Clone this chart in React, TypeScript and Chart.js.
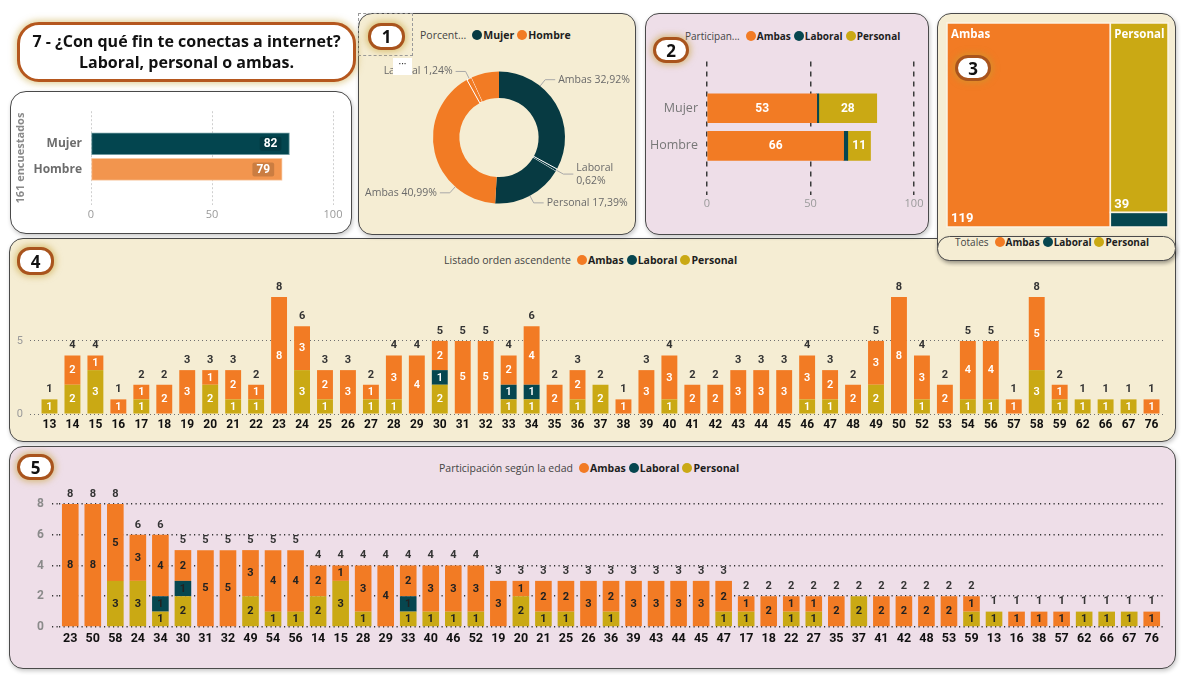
import { useEffect, useRef } from "react";
import { Chart, registerables } from "chart.js";

Chart.register(...registerables);

// ---------------- DATA ----------------
const ages = ["13","14","15","16","17","18","19","20","21","22","23","24","25","26","27","28","29","30","31","32","33","34","35","36","37","38","39","40","41","42","43","44","45","46","47","48","49","50","52","53","54","56","57","58","59","62","66","67","76"];
const ambasByAge = [0,2,1,1,1,2,3,1,2,1, 8,3,2,3,1,3,4,2,5,5, 2,4,2,2,0,1,3,3,2,2, 3,3,3,3,2,2,3,8, 3,2,4,4,1,5,1,0,0,0,1];
const laboralByAge = [0,0,0,0,0,0,0,0,0,0, 0,0,0,0,0,0,0,1,0,0, 1,1,0,0,0,0,0,0,0,0, 0,0,0,0,0,0,0,0, 0,0,0,0,0,0,0,0,0,0,0];
const personalByAge = [1,2,3,0,1,0,0,2,1,1, 0,3,1,0,1,1,0,2,0,0, 1,1,0,1,2,0,0,1,0,0, 0,0,0,1,1,0,2,0, 1,0,1,1,0,3,1,1,1,1,0];
const agesByParticipation = ["23","50","58","24","34","30","31","32","49","54","56","14","15","28","29","33","40","46","52","19","20","21","25","26","36","39","43","44","45","47","17","18","22","27","35","37","41","42","48","53","59","13","16","38","57","62","66","67","76"];

const genders = ["Mujer", "Hombre"];
const ambasByGender = [53, 66];
const laboralByGender = [1, 2];
const personalByGender = [28, 11];
const usageTypes = ["Ambas", "Laboral", "Personal"];

const respondentTicks = [0, 50, 100];
const ascendingTicks = [0, 5];
const participationTicks = [0, 2, 4, 6, 8];

// ---------------- STYLE ----------------
const FONT = "'Open Sans', 'Noto Sans', sans-serif";
const NUM = "Roboto, 'Open Sans', sans-serif";
const AMBAS = "#F27B24";
const LABORAL = "#06464F";
const PERSONAL = "#CAA914";
const MUJER_DARK = "#073A42";
const MUJER_BAR = "#03454F";
const HOMBRE_BAR = "#F2954E";
const CREAM = "#F5EDD3";
const PINK = "#EEDEE8";
const typeColors = [AMBAS, LABORAL, PERSONAL];

const sum = (a: number[]) => a.reduce((s, v) => s + v, 0);
const typeTotals = [sum(ambasByAge), sum(laboralByAge), sum(personalByAge)];
const genderTotals = genders.map((_, i) => ambasByGender[i] + laboralByGender[i] + personalByGender[i]);
const respondents = sum(genderTotals);

const fixedTicks = (vals: number[]) => (s: any) => {
  s.ticks = vals.map((v) => ({ value: v }));
};

// ---------------- PLUGINS ----------------
const valueBoxPlugin = {
  id: "valueBox",
  afterDatasetsDraw(chart: any) {
    const ctx = chart.ctx;
    const meta = chart.getDatasetMeta(0);
    const ds = chart.data.datasets[0];
    ctx.save();
    ctx.font = `bold 12px ${NUM}`;
    ctx.textAlign = "center";
    ctx.textBaseline = "middle";
    meta.data.forEach((bar: any, i: number) => {
      const t = String(ds.data[i].x);
      const w = ctx.measureText(t).width + 8;
      const p = bar.getProps(["x", "y"], true);
      const bx = p.x - 8 - w;
      ctx.fillStyle = "rgba(0,0,0,0.16)";
      ctx.beginPath();
      ctx.roundRect(bx, p.y - 7, w, 14, 2);
      ctx.fill();
      ctx.fillStyle = "#fff";
      ctx.fillText(t, bx + w / 2, p.y + 0.5);
    });
    ctx.restore();
  },
};

const hStackLabels = {
  id: "hStackLabels",
  afterDatasetsDraw(chart: any) {
    const ctx = chart.ctx;
    ctx.save();
    ctx.font = `bold 12px ${NUM}`;
    ctx.textAlign = "center";
    ctx.textBaseline = "middle";
    ctx.fillStyle = "#fff";
    chart.data.datasets.forEach((ds: any, di: number) => {
      chart.getDatasetMeta(di).data.forEach((bar: any, i: number) => {
        const p = bar.getProps(["x", "y", "base"], true);
        if (Math.abs(p.x - p.base) < 14) return;
        ctx.fillText(String(ds.data[i].x), (p.x + p.base) / 2, p.y + 0.5);
      });
    });
    ctx.restore();
  },
};

function stackLabels(insideColor: string, totalColor: string, insideWeight: string) {
  return {
    id: "stackLabels",
    afterDatasetsDraw(chart: any) {
      const ctx = chart.ctx;
      const n = chart.data.labels.length;
      ctx.save();
      ctx.textAlign = "center";
      ctx.textBaseline = "middle";
      ctx.font = `${insideWeight} 11px ${NUM}`;
      ctx.fillStyle = insideColor;
      chart.data.datasets.forEach((ds: any, di: number) => {
        chart.getDatasetMeta(di).data.forEach((bar: any, i: number) => {
          const v = ds.data[i];
          if (!v) return;
          const p = bar.getProps(["x", "y", "base"], true);
          ctx.fillText(String(v), p.x, (p.y + p.base) / 2 + 0.5);
        });
      });
      const ys = chart.scales.y;
      const meta0 = chart.getDatasetMeta(0);
      ctx.font = `bold 11px ${NUM}`;
      ctx.fillStyle = totalColor;
      for (let i = 0; i < n; i++) {
        const tot = chart.data.datasets.reduce((s: number, ds: any) => s + (ds.data[i] || 0), 0);
        ctx.fillText(String(tot), meta0.data[i].x, ys.getPixelForValue(tot) - 10);
      }
      ctx.restore();
    },
  };
}

const donutLabels = {
  id: "donutLabels",
  afterDraw(chart: any) {
    const ctx = chart.ctx;
    const vals = chart.data.datasets[0].data as number[];
    const total = sum(vals);
    const meta = chart.getDatasetMeta(0);
    ctx.save();
    ctx.font = `10.5px ${FONT}`;
    ctx.textBaseline = "middle";
    const W = chart.width;
    const margin = 5;
    const lh = 13;
    const placed: any[] = [];
    meta.data.forEach((arc: any, i: number) => {
      const p = arc.getProps(["x", "y", "startAngle", "endAngle", "outerRadius"], true);
      const pct = ((vals[i] / total) * 100).toFixed(2).replace(".", ",") + "%";
      const name = String(chart.data.labels[i]);
      const full = `${name} ${pct}`;
      const mid = (p.startAngle + p.endAngle) / 2;
      const right = Math.cos(mid) >= 0;
      const r1 = p.outerRadius + 8;
      const run = 10;
      const gap = 3;
      const anchorX = (a: number) => p.x + r1 * Math.cos(a) + (right ? run + gap : -(run + gap));
      const fits = (a: number, w: number) => (right ? anchorX(a) + w <= W - margin : anchorX(a) - w >= margin);
      let a = mid;
      let lines = [full];
      const wFull = ctx.measureText(full).width;
      if (!fits(a, wFull)) {
        const target = Math.sin(mid) >= 0 ? Math.PI / 2 : Math.cos(mid) >= 0 ? -Math.PI / 2 : 1.5 * Math.PI;
        const dir = Math.sign(target - mid);
        const lo = p.startAngle + 0.06;
        const hi = p.endAngle - 0.06;
        let b = mid;
        let ok = false;
        while (b >= lo && b <= hi) {
          if (fits(b, wFull)) { ok = true; break; }
          b += dir * 0.01;
        }
        if (ok) a = b;
        else lines = [name, pct];
      }
      const w = Math.max(...lines.map((t) => ctx.measureText(t).width));
      const ex = p.x + r1 * Math.cos(a);
      const ey = p.y + r1 * Math.sin(a);
      const tx = anchorX(a);
      const h = lines.length * lh;
      const box = { x0: right ? tx : tx - w, x1: right ? tx + w : tx, y0: ey - h / 2, y1: ey + h / 2 };
      if (placed.some((q) => box.x0 < q.x1 && box.x1 > q.x0 && box.y0 < q.y1 && box.y1 > q.y0)) return;
      placed.push(box);
      ctx.strokeStyle = "#a8a8a8";
      ctx.lineWidth = 1;
      ctx.beginPath();
      ctx.moveTo(p.x + p.outerRadius * Math.cos(a), p.y + p.outerRadius * Math.sin(a));
      ctx.lineTo(ex, ey);
      ctx.lineTo(ex + (right ? run : -run), ey);
      ctx.stroke();
      ctx.fillStyle = "#6a6a6a";
      ctx.textAlign = right ? "left" : "right";
      lines.forEach((t, k) => ctx.fillText(t, tx, ey - h / 2 + lh / 2 + k * lh));
    });
    ctx.restore();
  },
};

const treemapPlugin = {
  id: "treemap",
  afterDraw(chart: any) {
    const xs = chart.scales.x;
    const ys = chart.scales.y;
    const ctx = chart.ctx;
    const [amb, lab, per] = typeTotals;
    const col = lab + per;
    const cells = [
      { name: usageTypes[0], v: amb, x0: 0, x1: amb, y0: 0, y1: col, c: AMBAS, text: true },
      { name: usageTypes[2], v: per, x0: amb, x1: amb + col, y0: 0, y1: per, c: PERSONAL, text: true },
      { name: usageTypes[1], v: lab, x0: amb, x1: amb + col, y0: per, y1: col, c: LABORAL, text: false },
    ];
    ctx.save();
    cells.forEach((c) => {
      const l = xs.getPixelForValue(c.x0);
      const r = xs.getPixelForValue(c.x1);
      const t = ys.getPixelForValue(c.y0);
      const b = ys.getPixelForValue(c.y1);
      ctx.fillStyle = c.c;
      ctx.fillRect(l, t, r - l, b - t);
      ctx.strokeStyle = "#fbf3e3";
      ctx.lineWidth = 1.5;
      ctx.strokeRect(l, t, r - l, b - t);
      if (c.text) {
        ctx.fillStyle = "#fff";
        ctx.textAlign = "left";
        ctx.textBaseline = "middle";
        ctx.font = `bold 11.5px ${FONT}`;
        ctx.fillText(c.name, l + 4, t + 12);
        ctx.font = `bold 13px ${NUM}`;
        ctx.fillText(String(c.v), l + 4, b - 8);
      }
    });
    ctx.restore();
  },
};

// ---------------- CHART CONFIGS ----------------
const base = {
  responsive: false,
  maintainAspectRatio: false,
  animation: false,
  plugins: { legend: { display: false }, tooltip: { enabled: false } },
};

function genderConfig() {
  return {
    type: "bar",
    data: {
      datasets: [
        {
          data: genders.map((_, i) => ({ x: genderTotals[i], y: i })),
          backgroundColor: [MUJER_BAR, HOMBRE_BAR],
          borderColor: ["#6e9aa0", "#f8c9a2"],
          borderWidth: 1,
          borderSkipped: false,
          barThickness: 22,
        },
      ],
    },
    options: {
      ...base,
      indexAxis: "y",
      layout: { padding: { top: 15, right: 17, left: 0, bottom: 0 } },
      scales: {
        x: {
          type: "linear", min: 0, max: 100,
          afterBuildTicks: fixedTicks(respondentTicks),
          grid: { color: "#cfcfcf", drawTicks: false },
          border: { display: false, dash: [2, 2] },
          ticks: { color: "#9a9a9a", padding: 3, font: { family: FONT, size: 11 } },
          afterFit: (s: any) => { s.height = 25; },
        },
        y: {
          type: "linear", reverse: true, offset: false, min: -1.269, max: 2.385,
          afterBuildTicks: fixedTicks(genders.map((_, i) => i)),
          grid: { display: false, drawTicks: false, offset: false },
          border: { display: false },
          ticks: { color: "#6d6d6d", padding: 9, font: { family: FONT, size: 12, weight: "bold" }, callback: (v: any) => genders[v] },
          title: { display: true, text: `${respondents} encuestados`, color: "#8a8a8a", font: { family: FONT, size: 11, weight: "bold" }, padding: { top: 4, bottom: 0 } },
          afterFit: (s: any) => { s.width = 81; },
        },
      },
    },
    plugins: [valueBoxPlugin],
  };
}

function donutConfig() {
  const values: number[] = [];
  const labels: string[] = [];
  const colors: string[] = [];
  const borders: number[] = [];
  const byType = [ambasByGender, laboralByGender, personalByGender];
  genders.forEach((_, g) => {
    usageTypes.forEach((t, k) => {
      values.push(byType[k][g]);
      labels.push(t);
      colors.push(g === 0 ? MUJER_DARK : AMBAS);
      borders.push(k === 1 ? 1 : 0);
    });
  });
  return {
    type: "doughnut",
    data: { labels, datasets: [{ data: values, backgroundColor: colors, borderColor: "#fff", borderWidth: borders }] },
    options: {
      ...base,
      cutout: "60%",
      layout: { padding: { left: 72.5, right: 69.5, top: 16, bottom: 26 } },
    },
    plugins: [donutLabels],
  };
}

function genderTypeConfig() {
  const byType = [ambasByGender, laboralByGender, personalByGender];
  return {
    type: "bar",
    data: {
      datasets: usageTypes.map((t, k) => ({
        label: t,
        data: genders.map((_, i) => ({ x: byType[k][i], y: i })),
        backgroundColor: typeColors[k],
        borderWidth: 0,
        barThickness: 29,
      })),
    },
    options: {
      ...base,
      indexAxis: "y",
      layout: { padding: { top: 10, right: 14, left: 0, bottom: 0 } },
      scales: {
        x: {
          type: "linear", stacked: true, min: 0, max: 100,
          afterBuildTicks: fixedTicks(respondentTicks),
          grid: { color: "#3a3a3a", lineWidth: 1.5, drawTicks: false },
          border: { display: false, dash: [5, 5] },
          ticks: { color: "#9a9a9a", padding: 2, font: { family: FONT, size: 11 } },
          afterFit: (s: any) => { s.height = 30; },
        },
        y: {
          type: "linear", stacked: true, reverse: true, offset: false, min: -1.2405, max: 2.304,
          afterBuildTicks: fixedTicks(genders.map((_, i) => i)),
          grid: { display: false, drawTicks: false, offset: false },
          border: { display: false },
          ticks: { color: "#777", padding: 9, font: { family: FONT, size: 12.5 }, callback: (v: any) => genders[v] },
          afterFit: (s: any) => { s.width = 59; },
        },
      },
    },
    plugins: [hStackLabels],
  };
}

function treemapConfig() {
  return {
    type: "scatter",
    data: { datasets: [{ data: [] }] },
    options: {
      ...base,
      layout: { padding: { left: 2, right: 3, top: 3, bottom: 3 } },
      scales: {
        x: { type: "linear", min: 0, max: sum(typeTotals), display: false },
        y: { type: "linear", reverse: true, min: 0, max: typeTotals[1] + typeTotals[2], display: false },
      },
    },
    plugins: [treemapPlugin],
  };
}

function stackedAgeConfig(labels: string[], series: number[][], opts: any) {
  const order = [2, 1, 0]; // Personal bottom, Laboral, Ambas top
  return {
    type: "bar",
    data: {
      labels,
      datasets: order.map((k) => ({
        label: usageTypes[k],
        data: series[k],
        backgroundColor: typeColors[k],
        borderWidth: 0,
        barPercentage: 0.9,
        categoryPercentage: opts.catPct,
      })),
    },
    options: {
      ...base,
      layout: { padding: { top: opts.padTop, right: 12, left: 0, bottom: 0 } },
      scales: {
        x: {
          stacked: true,
          grid: { display: false, drawTicks: false },
          border: { display: false },
          ticks: { color: "#111", padding: 4, autoSkip: false, maxRotation: 0, font: { family: NUM, size: opts.xSize, weight: "bold" } },
          afterFit: (s: any) => { s.height = opts.xH; },
        },
        y: {
          stacked: true, min: 0, max: 8,
          afterBuildTicks: fixedTicks(opts.ticks),
          grid: { color: opts.gridColor, lineWidth: opts.gridW, drawTicks: true, tickLength: opts.tickLen, tickColor: opts.gridColor, tickWidth: opts.gridW, tickBorderDash: opts.dash },
          border: { display: false, dash: opts.dash },
          ticks: { color: opts.yColor, padding: opts.yPad, font: { family: NUM, size: opts.ySize, weight: opts.yWeight } },
          afterFit: (s: any) => { s.width = opts.yW; },
        },
      },
    },
    plugins: [stackLabels(opts.inside, "#333", opts.insideWeight)],
  };
}

function ascendingConfig() {
  return stackedAgeConfig(ages, [ambasByAge, laboralByAge, personalByAge], {
    catPct: 0.77, padTop: 22, xSize: 12, xH: 26, ticks: ascendingTicks,
    gridColor: "#707070", gridW: 1, tickLen: 8, dash: [1, 3],
    yColor: "#9a9a9a", yPad: 7, ySize: 11, yWeight: "normal", yW: 28,
    inside: "#fff", insideWeight: "600",
  });
}

function participationConfig() {
  const idx = agesByParticipation.map((a) => ages.indexOf(a));
  const pick = (arr: number[]) => idx.map((i) => arr[i]);
  return stackedAgeConfig(agesByParticipation, [pick(ambasByAge), pick(laboralByAge), pick(personalByAge)], {
    catPct: 0.82, padTop: 24, xSize: 12.5, xH: 25, ticks: participationTicks,
    gridColor: "#333", gridW: 1.6, tickLen: 7, dash: [1.2, 3.3],
    yColor: "#8a8a8a", yPad: 8, ySize: 12, yWeight: "bold", yW: 49,
    inside: "#222", insideWeight: "bold",
  });
}

// ---------------- COMPONENTS ----------------
function ChartCanvas({ left, top, width, height, make }: any) {
  const ref = useRef<HTMLCanvasElement>(null);
  useEffect(() => {
    const chart = new Chart(ref.current as HTMLCanvasElement, make());
    return () => chart.destroy();
  }, []);
  return <canvas ref={ref} width={width} height={height} style={{ position: "absolute", left, top, width, height }} />;
}

function Panel({ l, t, r, b, bg, radius = 14 }: any) {
  return (
    <div
      style={{
        position: "absolute", left: l, top: t, width: r - l, height: b - t, boxSizing: "border-box",
        background: bg, border: "1.5px solid #4a4a4a", borderRadius: radius,
        boxShadow: "1px 2px 4px rgba(0,0,0,0.22)",
      }}
    />
  );
}

function Badge({ l, t, w, h, n }: any) {
  return (
    <div
      style={{
        position: "absolute", left: l, top: t, width: w, height: h, boxSizing: "border-box",
        border: "3px solid #A9541D", borderRadius: 13, background: "#fff",
        boxShadow: "0 0 6px 2px rgba(196,158,48,0.55)",
        display: "flex", alignItems: "center", justifyContent: "center",
        fontFamily: FONT, fontWeight: 700, fontSize: 17, color: "#111",
      }}
    >
      {n}
    </div>
  );
}

function Legend({ left, cy, title, items, size = 10.5 }: any) {
  return (
    <div
      style={{
        position: "absolute", left, top: cy - 8, height: 16, display: "flex", alignItems: "center",
        fontFamily: FONT, fontSize: size, whiteSpace: "nowrap",
      }}
    >
      <span style={{ color: "#444", marginRight: 6 }}>{title}</span>
      {items.map((it: any) => (
        <span key={it.label} style={{ display: "flex", alignItems: "center", marginRight: 3, fontWeight: 700, color: "#1e1e1e" }}>
          <span style={{ width: 10, height: 10, borderRadius: 5, background: it.color, marginRight: 1, display: "inline-block" }} />
          {it.label}
        </span>
      ))}
    </div>
  );
}

const typeLegend = usageTypes.map((t, k) => ({ label: t, color: typeColors[k] }));

export default function App() {
  return (
    <div style={{ position: "absolute", left: 0, top: 0, width: 1183, height: 675, background: "#fff", overflow: "hidden", fontFamily: FONT }}>
      <Panel l={9} t={238} r={1176} b={442} bg={CREAM} />
      <Panel l={9} t={446} r={1176} b={669} bg={PINK} />
      <Panel l={10} t={91} r={352} b={234} bg="#fff" radius={16} />
      <Panel l={358} t={13} r={636} b={235} bg={CREAM} />
      <Panel l={645} t={13} r={929} b={235} bg={PINK} />
      <Panel l={937} t={13} r={1176} b={261} bg={CREAM} />
      <Panel l={937} t={236} r={1176} b={261} bg={CREAM} />

      <ChartCanvas left={10} top={95} width={340} height={135} make={genderConfig} />
      <ChartCanvas left={360} top={55} width={275} height={175} make={donutConfig} />
      <ChartCanvas left={648} top={45} width={280} height={180} make={genderTypeConfig} />
      <ChartCanvas left={945} top={20} width={226} height={210} make={treemapConfig} />
      <ChartCanvas left={10} top={275} width={1165} height={165} make={ascendingConfig} />
      <ChartCanvas left={10} top={480} width={1165} height={172} make={participationConfig} />

      <Legend left={420} cy={35} title="Porcent..." items={genders.map((g, i) => ({ label: g, color: i === 0 ? MUJER_DARK : AMBAS }))} />
      <Legend left={685} cy={36} title="Participan..." items={typeLegend} size={10} />
      <Legend left={955} cy={242} title="Totales" items={typeLegend} size={10} />
      <Legend left={444} cy={260} title="Listado orden ascendente" items={typeLegend} />
      <Legend left={439} cy={468} title="Participación según la edad" items={typeLegend} />

      <div style={{ position: "absolute", left: 358, top: 13, width: 55, height: 43, boxSizing: "border-box", border: "1.5px dashed #9a9a9a" }} />
      <div style={{ position: "absolute", left: 393, top: 58, width: 19, height: 17, background: "#fff", color: "#333", fontSize: 10, lineHeight: "10px", textAlign: "center" }}>···</div>

      <Badge l={368} t={23} w={37} h={27} n="1" />
      <Badge l={653} t={37} w={36} h={26} n="2" />
      <Badge l={955} t={55} w={36} h={26} n="3" />
      <Badge l={17} t={247} w={37} h={28} n="4" />
      <Badge l={17} t={454} w={37} h={26} n="5" />

      <div
        style={{
          position: "absolute", left: 17, top: 22, width: 339, height: 60, boxSizing: "border-box",
          border: "3px solid #B5571E", borderRadius: 22, background: "#fff",
          boxShadow: "0 0 6px 2px rgba(200,165,60,0.5)",
          display: "flex", flexDirection: "column", alignItems: "center", justifyContent: "center",
          fontFamily: FONT, fontWeight: 700, fontSize: 16, lineHeight: "21px", color: "#111",
        }}
      >
        <div>7 - ¿Con qué fin te conectas a internet?</div>
        <div>Laboral, personal o ambas.</div>
      </div>
    </div>
  );
}
